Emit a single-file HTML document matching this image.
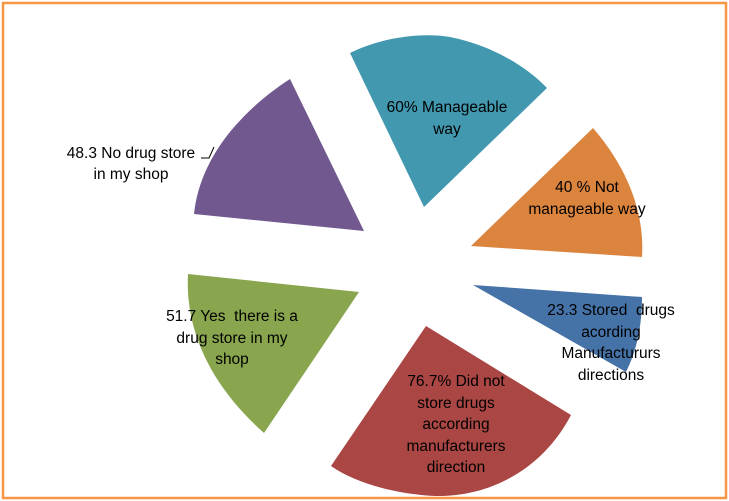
<!DOCTYPE html>
<html><head><style>
html,body{margin:0;padding:0;background:#fff;}
svg{display:block;}
text{font-family:"Liberation Sans",sans-serif;font-size:15.5px;fill:#000;text-anchor:middle;white-space:pre;}
</style></head><body>
<svg width="729" height="501" viewBox="0 0 729 501">
<rect x="3" y="3" width="723" height="495" fill="#fff" stroke="#f79646" stroke-width="2.5"/>
<path d="M424,207 L350,53 C380,38 420,32 450,37 C490,45 525,65 547,88 Z" fill="#4198af"/>
<path d="M364,231 L290,79 C245,108 200,155 194,214 Z" fill="#71588f"/>
<path d="M471,246 L593,128 C625,165 645,210 642,257 Z" fill="#db843d"/>
<path d="M473,285 L642,297 C642,325 637,350 626,372 Z" fill="#4572a7"/>
<path d="M426,326 L571,415 C545,465 495,497 435,496 C395,494 355,483 331,466 Z" fill="#aa4643"/>
<path d="M188,274 L359,292 L264,433 C210,385 185,330 188,274 Z" fill="#89a54e"/>
<g transform="scale(1,1)">
<text x="447" y="112">60% Manageable</text>
<text x="447" y="134">way</text>
<text x="587" y="192">40 % Not</text>
<text x="587" y="214">manageable way</text>
<text x="611" y="315">23.3 Stored  drugs</text>
<text x="611" y="337">acording</text>
<text x="611" y="358">Manufactururs</text>
<text x="611" y="380">directions</text>
<text x="456" y="386">76.7% Did not</text>
<text x="456" y="408">store drugs</text>
<text x="456" y="429">according</text>
<text x="456" y="451">manufacturers</text>
<text x="456" y="472">direction</text>
<text x="232" y="321">51.7 Yes  there is a</text>
<text x="232" y="343">drug store in my</text>
<text x="232" y="364">shop</text>
<text x="131" y="158">48.3 No drug store</text>
<text x="131" y="179">in my shop</text>
</g>
<path d="M201,158 L209,158 L214,147" fill="none" stroke="#000" stroke-width="1"/>
</svg>
</body></html>
